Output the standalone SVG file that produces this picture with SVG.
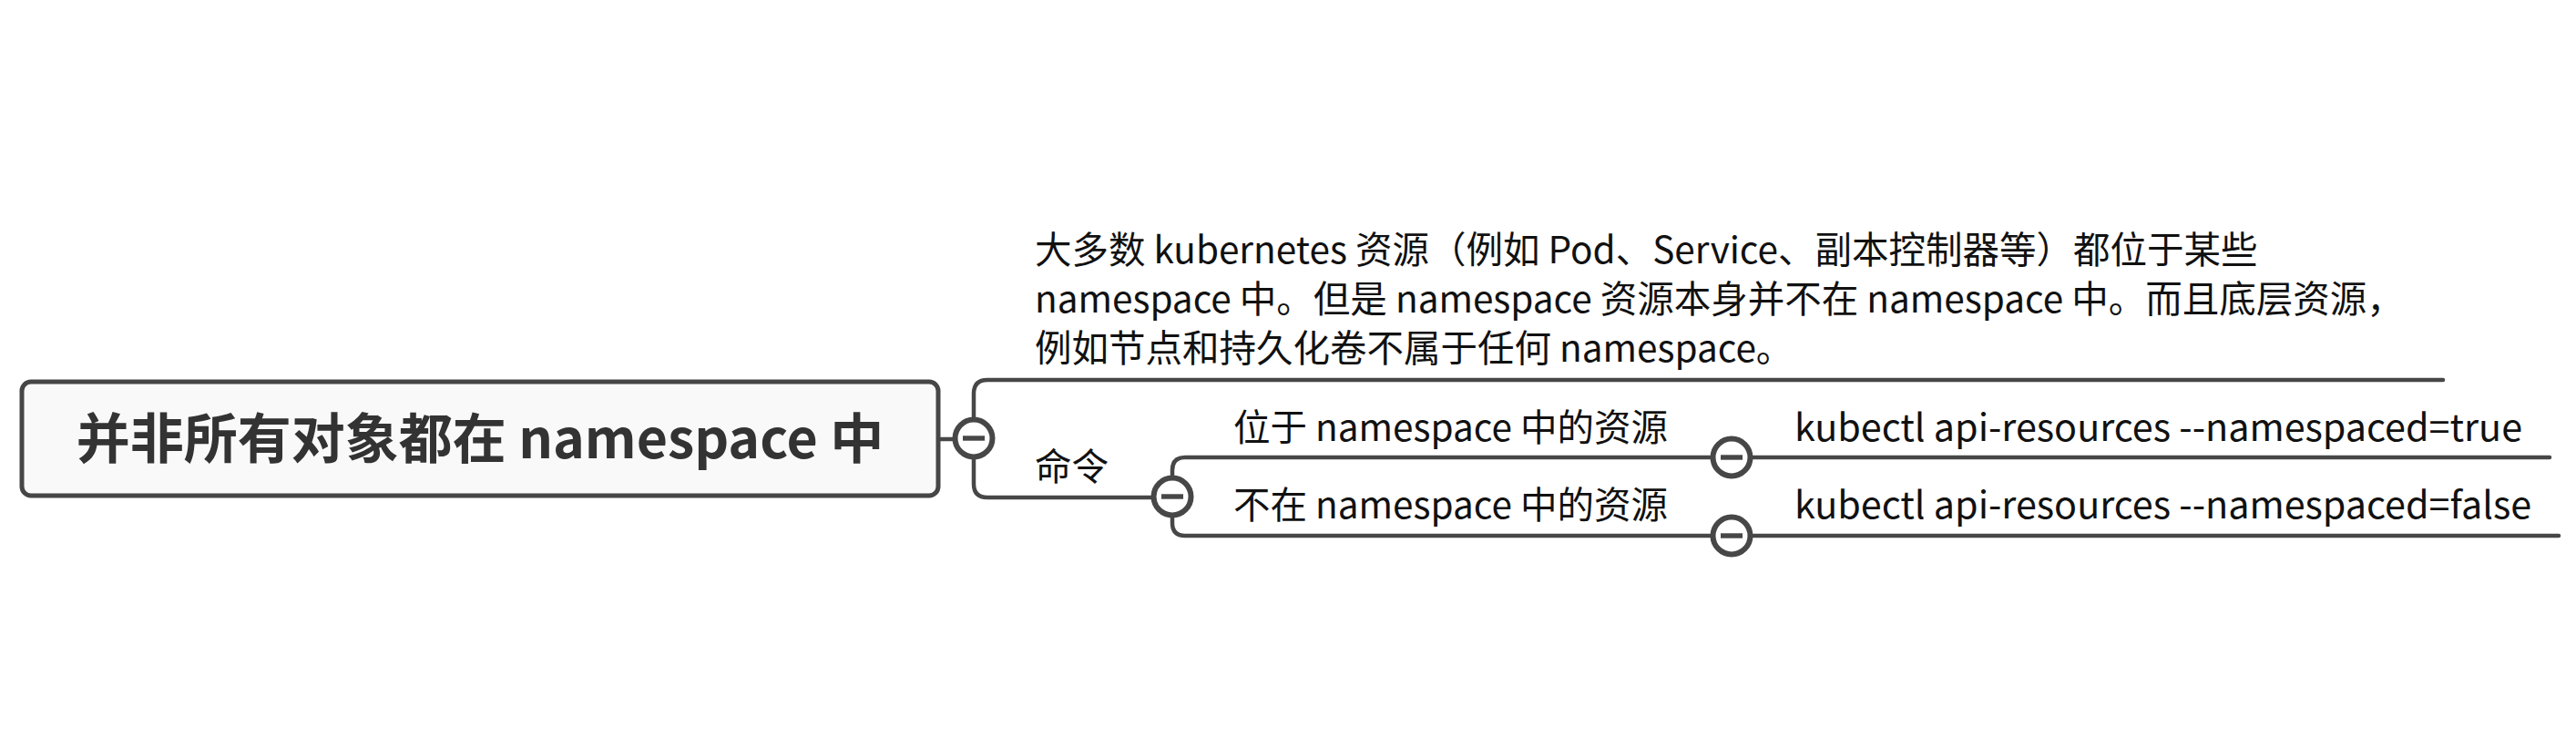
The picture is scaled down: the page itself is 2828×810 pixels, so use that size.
<svg xmlns="http://www.w3.org/2000/svg" width="2828" height="810" viewBox="0 0 2828 810">
<style>
.line{fill:none;stroke:#474747;stroke-width:4.5;stroke-linecap:round}
.txt{font-family:"Noto Sans CJK SC","Microsoft YaHei",sans-serif;font-size:40.5px;fill:#111}
.cmdtxt{font-family:"Noto Sans CJK SC","Microsoft YaHei",sans-serif;font-size:41.3px;fill:#111}
.root{font-family:"Noto Sans CJK SC","Microsoft YaHei",sans-serif;font-size:59px;font-weight:bold;fill:#333}
.tog circle{fill:#fff;stroke:#474747;stroke-width:6}
.tog rect{fill:#474747}
</style>
<rect width="2828" height="810" fill="#fff"/>
<g id="connectors">
<path class="line" d="M1030 482 H1050"/>
<path class="line" d="M1069 460 V432 Q1069 417 1084 417 H2682"/>
<path class="line" d="M1069 502 V531 Q1069 546 1084 546 H1266"/>
<path class="line" d="M1287 524 V516 Q1287 502 1301 502 H1880"/>
<path class="line" d="M1287 566 V574 Q1287 588 1301 588 H1880"/>
<path class="line" d="M1922 502 H2799"/>
<path class="line" d="M1922 588 H2809"/>
</g>
<g id="root">
<rect x="24" y="419" width="1006" height="125" rx="10" fill="#f9f9f9" stroke="#464646" stroke-width="5"/>
<text class="root" x="527" y="503" text-anchor="middle">并非所有对象都在 namespace 中</text>
<g class="tog"><circle cx="1069" cy="481" r="20.5"/><rect x="1057" y="478.3" width="24" height="5.4"/></g>
</g>
<g id="note">
<text class="txt" x="1136" y="289">大多数 kubernetes 资源（例如 Pod、Service、副本控制器等）都位于某些</text>
<text class="txt" x="1136" y="343">namespace 中。但是 namespace 资源本身并不在 namespace 中。而且底层资源，</text>
<text class="txt" x="1136" y="397">例如节点和持久化卷不属于任何 namespace。</text>
</g>
<g id="cmd">
<text class="txt" x="1136" y="527">命令</text>
<g class="tog"><circle cx="1287" cy="545" r="20.5"/><rect x="1275" y="542.3" width="24" height="5.4"/></g>
</g>
<g id="ns-true">
<text class="txt" x="1354" y="484">位于 namespace 中的资源</text>
<g class="tog"><circle cx="1901" cy="502" r="20.5"/><rect x="1889" y="499.3" width="24" height="5.4"/></g>
</g>
<g id="ns-false">
<text class="txt" x="1354" y="569">不在 namespace 中的资源</text>
<g class="tog"><circle cx="1901" cy="588" r="20.5"/><rect x="1889" y="585.3" width="24" height="5.4"/></g>
</g>
<g id="cmd-true">
<text class="cmdtxt" x="1970" y="484">kubectl api-resources --namespaced=true</text>
</g>
<g id="cmd-false">
<text class="cmdtxt" x="1970" y="569">kubectl api-resources --namespaced=false</text>
</g>
</svg>
